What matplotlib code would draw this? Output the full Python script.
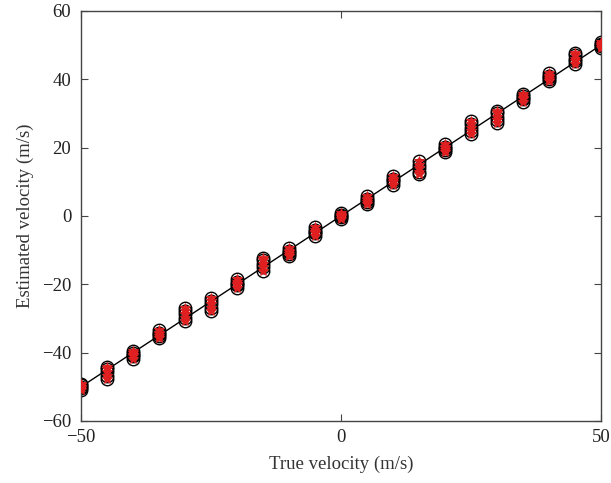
import matplotlib.pyplot as plt
import numpy as np

plt.rcParams['font.family'] = ['Liberation Serif', 'DejaVu Serif']

true_v = [-50, -45, -40, -35, -30, -25, -20, -15, -10, -5, 0,
          5, 10, 15, 20, 25, 30, 35, 40, 45, 50]
# estimated velocities for the repeated trials at each true velocity
est_v = [
    [-51.0, -50.3, -49.6, -49.2, -50.0],
    [-47.8, -46.8, -45.8, -44.9, -44.2],
    [-41.8, -41.0, -40.2, -39.4, -40.6],
    [-35.8, -35.0, -34.2, -33.3, -34.6],
    [-30.8, -29.8, -28.8, -27.8, -27.0],
    [-27.8, -26.8, -25.8, -24.8, -24.0],
    [-21.0, -20.2, -19.4, -18.5, -19.8],
    [-16.0, -15.0, -14.0, -13.0, -12.2],
    [-11.8, -11.0, -10.2, -9.4, -10.6],
    [-5.8, -5.0, -4.2, -3.3, -4.6],
    [-0.8, 0.0, 0.8, -0.4, 0.4],
    [3.4, 4.2, 5.0, 5.8, 4.6],
    [9.2, 10.0, 10.8, 11.6, 10.4],
    [12.2, 13.0, 14.0, 15.0, 16.0],
    [18.6, 19.4, 20.2, 21.0, 19.8],
    [24.0, 24.8, 25.8, 26.8, 27.8],
    [27.2, 28.0, 29.0, 30.0, 30.8],
    [33.4, 34.2, 35.0, 35.8, 34.6],
    [39.4, 40.2, 41.0, 41.8, 40.6],
    [44.4, 45.2, 46.0, 47.0, 47.8],
    [49.2, 50.0, 50.8, 49.6, 50.4],
]

fig = plt.figure(figsize=(6.11, 4.83), dpi=100)
ax = fig.add_axes([0.1326, 0.1284, 0.851, 0.849])

ax.plot([-50, 50], [-50, 50], color='black', lw=1.0, zorder=1)

for tv, ests in zip(true_v, est_v):
    xs = [tv] * len(ests)
    ax.plot(xs, ests, linestyle='none', marker='o', ms=9, mfc='none',
            mec='black', mew=1.0, zorder=2)
    ax.plot(xs, ests, linestyle='none', marker='*', ms=7, color='#e02020',
            mew=0.6, zorder=3)

ax.set_xlim(-50, 50)
ax.set_ylim(-60, 60)
ax.set_xticks([-50, 0, 50])
ax.set_yticks([-60, -40, -20, 0, 20, 40, 60])
ax.set_xticklabels(['\u221250', '0', '50'])
ax.set_yticklabels(['\u221260', '\u221240', '\u221220', '0', '20', '40', '60'])
ax.tick_params(direction='in', top=True, right=True, labelsize=13.5,
               length=5, color='#444444', labelcolor='#222222')
ax.tick_params(axis='x', pad=6)
ax.tick_params(axis='y', pad=7)
for s in ax.spines.values():
    s.set_color('#444444')
    s.set_linewidth(1.0)

ax.set_xlabel('True velocity (m/s)', fontsize=13.5, color='#333333', labelpad=7)
ax.set_ylabel('Estimated velocity (m/s)', fontsize=13.5, color='#333333', labelpad=6)

fig.savefig('out.png', dpi=100)
